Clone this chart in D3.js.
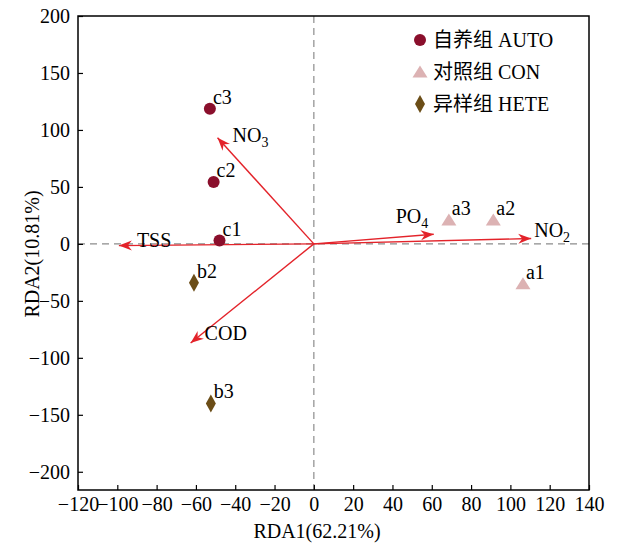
<!DOCTYPE html>
<html>
<head>
<meta charset="utf-8">
<script src="https://cdn.jsdelivr.net/npm/d3@7"></script>
<style>
  body { margin: 0; background: #fff; }
  text { font-family: "Liberation Serif", "Times New Roman", "Noto Sans CJK SC", serif; }
</style>
</head>
<body>
<svg id="chart" width="617" height="545"></svg>
<script>
// sample scores (RDA1, RDA2)
var sampleNames = ["c1", "c2", "c3", "a1", "a2", "a3", "b2", "b3"];
var sampleGroup = ["AUTO", "AUTO", "AUTO", "CON", "CON", "CON", "HETE", "HETE"];
var sampleX = [-48, -51, -52.9, 106.4, 91.3, 68.7, -61, -52.4];
var sampleY = [2.9, 54.4, 118.7, -35, 21, 21, -34, -140];

// environment factor arrows
var envNames = ["TSS", "NO", "COD", "PO", "NO"];
var envSub = ["", "3", "", "4", "2"];
var envX = [-99.2, -49, -62.7, 61, 110.6];
var envY = [-1.5, 93.2, -87, 8.5, 4.7];

var groups = ["AUTO", "CON", "HETE"];
var groupLabels = ["自养组 AUTO", "对照组 CON", "异样组 HETE"];

var xTicks = [-120, -100, -80, -60, -40, -20, 0, 20, 40, 60, 80, 100, 120, 140];
var yTicks = [-200, -150, -100, -50, 0, 50, 100, 150, 200];

// style / layout
var colors = { AUTO: "#8a0f2c", CON: "#dcb2b3", HETE: "#6b4d17" };
var arrowCol = "#e3232a";
// label offsets for the arrow names, in px from the tip
var envLabelOff = [[18, 1], [15, 4], [14, -3], [-38, -11], [3, -2]];

var margin = { top: 16, right: 28, bottom: 55, left: 78 };
var width = 617, height = 545;
var svg = d3.select("#chart");

var x = d3.scaleLinear().domain([-120, 140]).range([margin.left, width - margin.right]);
var y = d3.scaleLinear().domain([-216, 200]).range([height - margin.bottom, margin.top]);

// zero lines
function dash_line (x1, y1, x2, y2) {
  svg.append("line")
     .attr("x1", x1).attr("y1", y1).attr("x2", x2).attr("y2", y2)
     .attr("stroke", "#8c8c8c")
     .attr("stroke-width", 1.2)
     .attr("stroke-dasharray", "7,5");
}
dash_line(x(0), y(200), x(0), y(-216));
dash_line(x(-120), y(0), x(140), y(0));

// axes
var xAxis = svg.append("g")
  .attr("transform", "translate(0," + y(-216) + ")")
  .call(d3.axisBottom(x).tickValues(xTicks).tickSizeInner(-5).tickSizeOuter(0).tickPadding(7));
var yAxis = svg.append("g")
  .attr("transform", "translate(" + x(-120) + ",0)")
  .call(d3.axisLeft(y).tickValues(yTicks).tickSizeInner(-5).tickSizeOuter(0).tickPadding(8));

[xAxis, yAxis].forEach(function (a) {
  a.select(".domain").remove();
  a.selectAll("line").attr("stroke", "#000").attr("stroke-width", 1.2);
  a.selectAll("text")
   .attr("fill", "#000")
   .style("font-size", "20px")
   .style("font-family", "Liberation Serif, Times New Roman, serif");
});

// frame
svg.append("rect")
   .attr("x", x(-120)).attr("y", y(200))
   .attr("width", x(140) - x(-120))
   .attr("height", y(-216) - y(200))
   .attr("fill", "none")
   .attr("stroke", "#000")
   .attr("stroke-width", 1.5);

// arrow head
svg.append("defs").append("marker")
   .attr("id", "head")
   .attr("markerUnits", "userSpaceOnUse")
   .attr("viewBox", "-14 -6 16 12")
   .attr("refX", 0).attr("refY", 0)
   .attr("markerWidth", 16).attr("markerHeight", 12)
   .attr("orient", "auto")
   .append("path")
   .attr("d", "M0,0 L-13,-5 L-9,0 L-13,5 Z")
   .attr("fill", arrowCol);

envNames.forEach(function (n, i) {
  svg.append("line")
     .attr("x1", x(0)).attr("y1", y(0))
     .attr("x2", x(envX[i])).attr("y2", y(envY[i]))
     .attr("stroke", arrowCol)
     .attr("stroke-width", 1.4)
     .attr("marker-end", "url(#head)");
  var t = svg.append("text")
     .attr("x", x(envX[i]) + envLabelOff[i][0])
     .attr("y", y(envY[i]) + envLabelOff[i][1])
     .style("font-size", "20px")
     .text(n);
  if (envSub[i] !== "") {
    t.append("tspan").attr("dy", 5).style("font-size", "14px").text(envSub[i]);
  }
});

// sample markers
function draw_marker (g, grp, cx, cy) {
  if (grp === "AUTO") {
    g.append("circle").attr("cx", cx).attr("cy", cy).attr("r", 6)
     .attr("fill", colors.AUTO);
  } else if (grp === "CON") {
    g.append("path")
     .attr("d", "M" + cx + "," + (cy - 6.5) + " L" + (cx + 7.5) + "," + (cy + 5.5) +
                " L" + (cx - 7.5) + "," + (cy + 5.5) + " Z")
     .attr("fill", colors.CON);
  } else {
    g.append("path")
     .attr("d", "M" + cx + "," + (cy - 9) + " L" + (cx + 5) + "," + cy +
                " L" + cx + "," + (cy + 9) + " L" + (cx - 5) + "," + cy + " Z")
     .attr("fill", colors.HETE);
  }
}

var pts = svg.append("g");
sampleNames.forEach(function (n, i) {
  var cx = x(sampleX[i]), cy = y(sampleY[i]);
  draw_marker(pts, sampleGroup[i], cx, cy);
  pts.append("text")
     .attr("x", cx + 3).attr("y", cy - 5)
     .style("font-size", "20px")
     .text(n);
});

// legend
var leg = svg.append("g");
groups.forEach(function (g, i) {
  var cy = 40 + i * 32;
  draw_marker(leg, g, 420, cy);
  leg.append("text")
     .attr("x", 433).attr("y", cy + 7)
     .style("font-size", "20px")
     .text(groupLabels[i]);
});

// axis titles
svg.append("text")
   .attr("x", 317).attr("y", 538)
   .attr("text-anchor", "middle")
   .style("font-size", "20px")
   .text("RDA1(62.21%)");
svg.append("text")
   .attr("transform", "translate(39,254) rotate(-90)")
   .attr("text-anchor", "middle")
   .style("font-size", "20px")
   .text("RDA2(10.81%)");
</script>
</body>
</html>
